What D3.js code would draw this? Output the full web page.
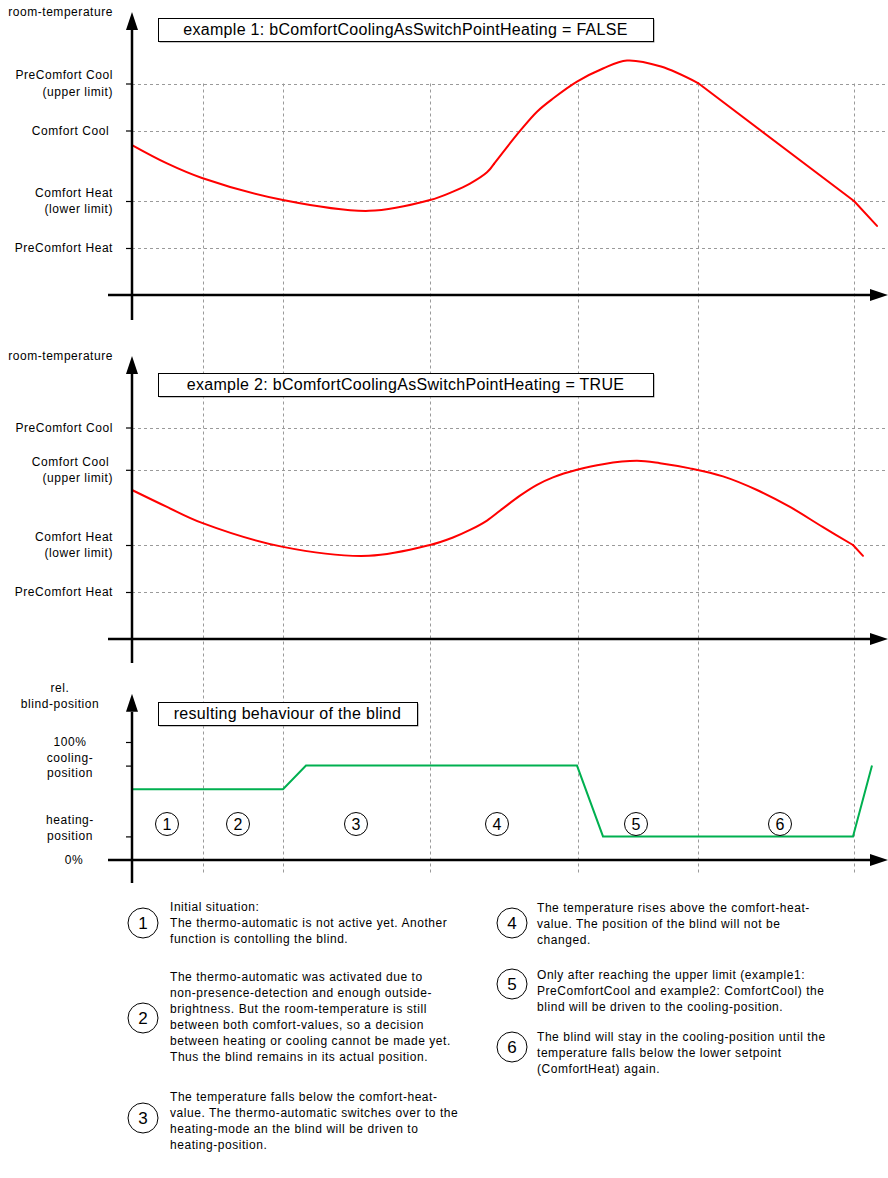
<!DOCTYPE html>
<html><head><meta charset="utf-8">
<script src="https://cdn.jsdelivr.net/npm/d3@7"></script>
<style>
body{margin:0;background:#fff}
svg{display:block;font-family:"Liberation Sans",Arial,sans-serif}
.s{letter-spacing:0.55px}
.t{letter-spacing:0.3px}
</style>
</head><body>
<svg id="c" width="888" height="1178"></svg>
<script>
// ---------- data ----------
const phaseBoundaries = [71, 151, 298, 446, 566, 722];           // time of vertical grid lines

const ex1TickValues = [19, 20, 21.5, 22.5];
const ex1TickLabels = [["PreComfort Heat"], ["Comfort Heat", "(lower limit)"], ["Comfort Cool "], ["PreComfort Cool", "(upper limit)"]];
const ex1Times = [0, 35, 70, 151, 237, 298, 321, 338, 355, 362, 388, 405, 421, 445, 471, 495, 529, 566, 722, 745];
const ex1Temps = [21.19, 20.80, 20.49, 20.02, 19.79, 20.02, 20.20, 20.37, 20.61, 20.79, 21.49, 21.90, 22.18, 22.54, 22.82, 22.99, 22.86, 22.51, 20.0, 19.47];
const ex1Breaks = [9, 17, 18];   // indices where the curve has a corner

const ex2TickValues = [19, 20, 21.6, 22.5];
const ex2TickLabels = [["PreComfort Heat"], ["Comfort Heat", "(lower limit)"], ["Comfort Cool ", "(upper limit)"], ["PreComfort Cool"]];
const ex2Times = [0, 35, 70, 151, 237, 298, 321, 338, 355, 371, 388, 405, 421, 445, 471, 505, 528, 558, 591, 625, 658, 691, 721, 731];
const ex2Temps = [21.17, 20.81, 20.47, 19.96, 19.77, 20.0, 20.16, 20.32, 20.52, 20.78, 21.05, 21.28, 21.44, 21.60, 21.72, 21.79, 21.74, 21.63, 21.46, 21.17, 20.81, 20.38, 20.0, 19.77];
const ex2Breaks = [22];

const blindTickValues = [20, 80, 100];
const blindTickLabels = [["heating-", "position"], ["cooling-", "position"], ["100%"]];
const blindTimes = [0, 151, 174, 445, 471, 721, 740];
const blindPos = [60, 60, 80, 80, 20, 20, 80];
const phaseNumbers = ["1", "2", "3", "4", "5", "6"];
const phaseNumberTimes = [35, 106, 224, 365, 504, 648];

const titles = ["example 1: bComfortCoolingAsSwitchPointHeating = FALSE",
                "example 2: bComfortCoolingAsSwitchPointHeating = TRUE",
                "resulting behaviour of the blind"];

const noteNumbers = ["1", "2", "3", "4", "5", "6"];
const noteLines = [
  ["Initial situation:", "The thermo-automatic is not active yet. Another", "function is contolling the blind."],
  ["The thermo-automatic was activated due to", "non-presence-detection and enough outside-", "brightness. But the room-temperature is still", "between both comfort-values, so a decision", "between heating or cooling cannot be made yet.", "Thus the blind remains in its actual position."],
  ["The temperature falls below the comfort-heat-", "value. The thermo-automatic switches over to the", "heating-mode an the blind will be driven to", "heating-position."],
  ["The temperature rises above the comfort-heat-", "value. The position of the blind will not be", "changed."],
  ["Only after reaching the upper limit (example1:", "PreComfortCool and example2: ComfortCool) the", "blind will be driven to the cooling-position."],
  ["The blind will stay in the cooling-position until the", "temperature falls below the lower setpoint", "(ComfortHeat) again."]
];

// ---------- drawing ----------
const svg = d3.select("#c");
const x = d3.scaleLinear().domain([0, 750]).range([132, 882]);
const y1 = d3.scaleLinear().domain([18, 24]).range([295, 13]);
const y2 = d3.scaleLinear().domain([18, 24]).range([639, 357]);
const y3 = d3.scaleLinear().domain([0, 100]).range([860, 742]);

const defs = svg.append("defs");
defs.append("marker").attr("id", "arr").attr("viewBox", "0 0 18 12")
  .attr("refX", 0).attr("refY", 6).attr("markerWidth", 18).attr("markerHeight", 12)
  .attr("markerUnits", "userSpaceOnUse").attr("orient", "auto")
  .append("path").attr("d", "M0,0L18,6L0,12Z").attr("fill", "#000");

const gridColor = "#9a9a9a";

svg.append("g").selectAll("line").data(phaseBoundaries).join("line")
  .attr("x1", d => x(d) + 0.5).attr("x2", d => x(d) + 0.5)
  .attr("y1", y1(22.5)).attr("y2", 873)
  .attr("stroke", gridColor).attr("stroke-width", 1).attr("stroke-dasharray", "3,3");

function tempPanel(y, tickValues, tickLabels, times, temps, breaks) {
  const g = svg.append("g");
  g.append("g").selectAll("line").data(tickValues).join("line")
    .attr("x1", x(0)).attr("x2", 886)
    .attr("y1", d => Math.round(y(d)) + 0.5).attr("y2", d => Math.round(y(d)) + 0.5)
    .attr("stroke", gridColor).attr("stroke-width", 1).attr("stroke-dasharray", "3,3");
  const ax = d3.axisLeft(y).tickValues(tickValues).tickSize(6).tickFormat("");
  const ag = g.append("g").attr("transform", `translate(${x(0)},0)`).call(ax);
  ag.select(".domain").remove();
  ag.selectAll(".tick line").attr("stroke", "#000").attr("stroke-width", 1.2);
  const lab = g.append("g").selectAll("text").data(tickValues).join("text")
    .attr("class", "s").attr("text-anchor", "end").attr("font-size", 12).attr("fill", "#000")
    .style("white-space", "pre");
  lab.each(function(d, i) {
    const lines = tickLabels[i];
    const t = d3.select(this);
    lines.forEach((s, k) => {
      t.append("tspan").attr("x", 113)
        .attr("y", y(d) + (k - (lines.length - 1) / 2) * 16.5 + 4).text(s);
    });
  });
  const pts = times.map((t, i) => [t, temps[i]]);
  const cuts = [0, ...breaks, pts.length - 1];
  const line = d3.line().x(d => x(d[0])).y(d => y(d[1])).curve(d3.curveCatmullRom.alpha(0.5));
  for (let k = 0; k < cuts.length - 1; k++) {
    g.append("path").datum(pts.slice(cuts[k], cuts[k + 1] + 1))
      .attr("d", line).attr("fill", "none").attr("stroke", "#ff0000")
      .attr("stroke-width", 2).attr("stroke-linejoin", "round").attr("stroke-linecap", "round");
  }
  return g;
}

function axes(y, yMin, yTop, axisBottomY) {
  svg.append("line").attr("x1", 108).attr("x2", 870)
    .attr("y1", y(yMin)).attr("y2", y(yMin))
    .attr("stroke", "#000").attr("stroke-width", 2.5).attr("marker-end", "url(#arr)");
  svg.append("line").attr("x1", x(0)).attr("x2", x(0))
    .attr("y1", axisBottomY).attr("y2", y(yTop) + 17)
    .attr("stroke", "#000").attr("stroke-width", 2.5).attr("marker-end", "url(#arr)");
}

function titleBox(x0, y0, w, h, text) {
  svg.append("rect").attr("x", x0 + 1.5).attr("y", y0 + 1.5).attr("width", w).attr("height", h).attr("fill", "#8a8a8a");
  svg.append("rect").attr("x", x0 + 0.5).attr("y", y0 + 0.5).attr("width", w).attr("height", h)
    .attr("fill", "#fff").attr("stroke", "#000").attr("stroke-width", 1);
  svg.append("text").attr("class", "t").attr("x", x0 + w / 2).attr("y", y0 + h / 2 + 5.5)
    .attr("text-anchor", "middle").attr("font-size", 16).attr("fill", "#000").text(text);
}

// panel 1
tempPanel(y1, ex1TickValues, ex1TickLabels, ex1Times, ex1Temps, ex1Breaks);
axes(y1, 18, 24, 320);
titleBox(158, 18, 495, 23, titles[0]);
svg.append("text").attr("class", "s").attr("x", 113).attr("y", 16).attr("text-anchor", "end").attr("font-size", 12).text("room-temperature");

// panel 2
tempPanel(y2, ex2TickValues, ex2TickLabels, ex2Times, ex2Temps, ex2Breaks);
axes(y2, 18, 24, 663);
titleBox(158, 373, 495, 23, titles[1]);
svg.append("text").attr("class", "s").attr("x", 113).attr("y", 360).attr("text-anchor", "end").attr("font-size", 12).text("room-temperature");

// panel 3 (blind)
const g3 = svg.append("g");
const ax3 = d3.axisLeft(y3).tickValues(blindTickValues).tickSize(6).tickFormat("");
const ag3 = g3.append("g").attr("transform", `translate(${x(0)},0)`).call(ax3);
ag3.select(".domain").remove();
ag3.selectAll(".tick line").attr("stroke", "#000").attr("stroke-width", 1.2);
const blindLabelShift = [-8.25, 0, 0];
g3.append("g").selectAll("text").data(blindTickValues).join("text")
  .attr("class", "s").attr("text-anchor", "middle").attr("font-size", 12).attr("fill", "#000")
  .each(function(d, i) {
    const lines = blindTickLabels[i];
    const t = d3.select(this);
    lines.forEach((s, k) => {
      t.append("tspan").attr("x", 70)
        .attr("y", y3(d) + (k - (lines.length - 1) / 2) * 15.5 + blindLabelShift[i] + 4).text(s);
    });
  });
g3.append("text").attr("class", "s").attr("x", 74).attr("y", y3(0) + 3.5).attr("text-anchor", "middle").attr("font-size", 12).text("0%");
g3.append("text").attr("class", "s").attr("x", 60).attr("y", 692).attr("text-anchor", "middle").attr("font-size", 12).text("rel.");
g3.append("text").attr("class", "s").attr("x", 60).attr("y", 707.5).attr("text-anchor", "middle").attr("font-size", 12).text("blind-position");

g3.append("path").datum(blindTimes.map((t, i) => [t, blindPos[i]]))
  .attr("d", d3.line().x(d => x(d[0])).y(d => y3(d[1])))
  .attr("fill", "none").attr("stroke", "#00b050").attr("stroke-width", 2).attr("stroke-linejoin", "miter");

axes(y3, 0, 140, 883);
titleBox(158, 702, 259, 23, titles[2]);

const pn = g3.append("g").selectAll("g").data(phaseNumbers).join("g")
  .attr("transform", (d, i) => `translate(${x(phaseNumberTimes[i])},${y3(30.5)})`);
pn.append("circle").attr("r", 11.5).attr("fill", "none").attr("stroke", "#000").attr("stroke-width", 1);
pn.append("text").attr("text-anchor", "middle").attr("y", 6).attr("font-size", 16).text(d => d);

// notes
const noteLayout = [
  {cx: 143, cy: 923, tx: 170, ty: 907},
  {cx: 143, cy: 1018, tx: 170, ty: 977},
  {cx: 143, cy: 1118, tx: 170, ty: 1097},
  {cx: 512, cy: 923, tx: 537, ty: 907.5},
  {cx: 512, cy: 984, tx: 537, ty: 975},
  {cx: 512, cy: 1047, tx: 537, ty: 1037}
];
const notes = svg.append("g").selectAll("g").data(noteNumbers).join("g");
notes.each(function(d, i) {
  const L = noteLayout[i];
  const g = d3.select(this);
  g.append("circle").attr("cx", L.cx).attr("cy", L.cy).attr("r", 15)
    .attr("fill", "#fff").attr("stroke", "#000").attr("stroke-width", 1);
  g.append("text").attr("x", L.cx).attr("y", L.cy + 6).attr("text-anchor", "middle")
    .attr("font-size", 17).text(d);
  const t = g.append("text").attr("class", "s").attr("font-size", 12).attr("fill", "#000");
  noteLines[i].forEach((s, k) => {
    t.append("tspan").attr("x", L.tx).attr("y", L.ty + k * 16 + 4).text(s);
  });
});
</script>
</body></html>
